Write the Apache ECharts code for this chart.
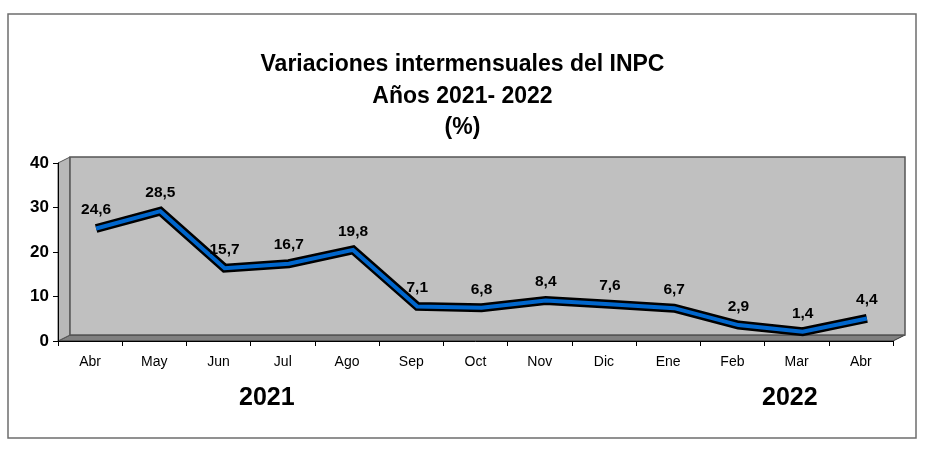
<!DOCTYPE html>
<html><head><meta charset="utf-8">
<script src="https://cdn.jsdelivr.net/npm/echarts@6/dist/echarts.min.js"></script>
<style>html,body{margin:0;padding:0;background:#fff}#c{width:925px;height:451px}</style>
</head><body><div id="c"></div>
<script>
var categories = ['Abr','May','Jun','Jul','Ago','Sep','Oct','Nov','Dic','Ene','Feb','Mar','Abr'];
var values = [24.6, 28.5, 15.7, 16.7, 19.8, 7.1, 6.8, 8.4, 7.6, 6.7, 2.9, 1.4, 4.4];
var yTicks = [0, 10, 20, 30, 40];
var titleLines = ['Variaciones intermensuales del INPC', 'Años 2021- 2022', '(%)'];
var yearLabels = ['2021', '2022'];

var W = 925, H = 451;
var FL = 58, FR = 893, FT = 163, FB = 341; // front plane
var DX = 12, DY = -6; // depth offset
var font = 'Liberation Sans, Arial, sans-serif';

var chart = echarts.init(document.getElementById('c'), null, {renderer: 'canvas'});
var option = {
  animation: false,
  backgroundColor: '#fff',
  title: [{
    text: titleLines.join('\n'), left: 'center', top: 44,
    textStyle: {fontFamily: font, fontWeight: 'bold', fontSize: 23, color: '#000', lineHeight: 31.5}
  }],
  grid: [
    {left: FL, right: W - FR, top: FT, bottom: H - FB, show: false},
    {left: FL + DX, right: W - FR - DX, top: FT + DY, bottom: H - FB - DY, show: true,
     backgroundColor: '#C0C0C0', borderColor: '#555', borderWidth: 1.5, z: 0},
    {left: FL + DX / 2, right: W - FR - DX / 2, top: FT + DY / 2, bottom: H - FB - DY / 2, show: false}
  ],
  xAxis: [{
    gridIndex: 0, type: 'category', data: categories, boundaryGap: true,
    axisLine: {lineStyle: {color: '#000', width: 1}},
    axisTick: {show: true, length: 5, lineStyle: {color: '#000'}},
    axisLabel: {fontFamily: font, fontSize: 14, color: '#000', margin: 14}
  }, {
    gridIndex: 1, type: 'category', data: categories, show: false
  }, {
    gridIndex: 2, type: 'category', data: categories, show: false
  }],
  yAxis: [{
    gridIndex: 0, type: 'value', min: 0, max: 40, interval: 10,
    axisLine: {show: true, lineStyle: {color: '#000'}},
    axisTick: {show: true, length: 5, lineStyle: {color: '#000'}},
    splitLine: {show: false},
    axisLabel: {fontFamily: font, fontSize: 17, fontWeight: 'bold', color: '#000', margin: 9,
      formatter: function (v) { return yTicks.indexOf(v) >= 0 ? String(v) : ''; }}
  }, {
    gridIndex: 1, type: 'value', min: 0, max: 40, show: false
  }, {
    gridIndex: 2, type: 'value', min: 0, max: 40, show: false
  }],
  series: [{
    type: 'line', xAxisIndex: 2, yAxisIndex: 2, data: values, z: 5,
    symbol: 'none', lineStyle: {color: '#000', width: 9, join: 'miter'}, silent: true
  }, {
    type: 'line', xAxisIndex: 2, yAxisIndex: 2, data: values, z: 6,
    symbol: 'circle', symbolSize: 1, showSymbol: true,
    itemStyle: {color: 'rgba(0,0,0,0)'},
    lineStyle: {color: '#0066CC', width: 4, join: 'miter'},
    label: {show: true, position: 'top', distance: 10, fontFamily: font, fontWeight: 'bold',
      fontSize: 15.5, color: '#000',
      formatter: function (p) { return String(p.value).replace('.', ','); }},
    labelLayout: {hideOverlap: false}
  }],
  graphic: [
    {type: 'rect', shape: {x: 8, y: 14, width: 908, height: 424}, style: {fill: 'none', stroke: '#6e6e6e', lineWidth: 1.5}, z: -10},
    {type: 'polygon', shape: {points: [[FL, FB], [FL + DX, FB + DY], [FR + DX, FB + DY], [FR, FB]]},
      style: {fill: '#808080', stroke: '#333', lineWidth: 1}, z: -1},
    {type: 'polygon', shape: {points: [[FL, FT], [FL + DX, FT + DY], [FL + DX, FB + DY], [FL, FB]]},
      style: {fill: '#B8B8B8', stroke: '#555', lineWidth: 1}, z: -1},
    {type: 'text', left: 239, top: 386, style: {text: yearLabels[0], fontFamily: font, fontWeight: 'bold', fontSize: 25, fill: '#000'}},
    {type: 'text', left: 762, top: 386, style: {text: yearLabels[1], fontFamily: font, fontWeight: 'bold', fontSize: 25, fill: '#000'}}
  ]
};
chart.setOption(option);
</script></body></html>
